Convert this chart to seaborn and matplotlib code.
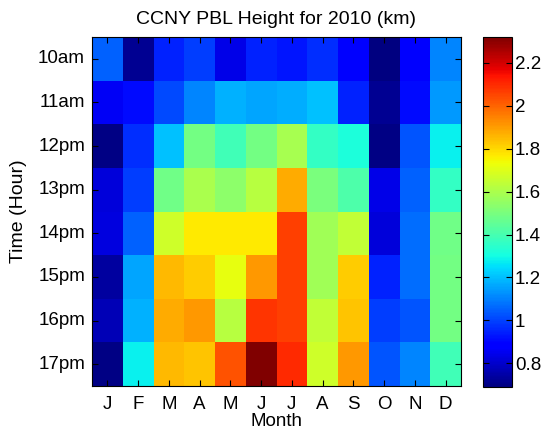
import numpy as np
import pandas as pd
import matplotlib
matplotlib.use("Agg")
import matplotlib.pyplot as plt
import seaborn as sns
from matplotlib.ticker import FuncFormatter

months = ["J", "F", "M", "A", "M", "J", "J", "A", "S", "O", "N", "D"]
hours = ["10am", "11am", "12pm", "13pm", "14pm", "15pm", "16pm", "17pm"]

h10 = [1.05, 0.72, 0.95, 0.99, 0.84, 0.95, 0.93, 0.97, 0.87, 0.69, 0.89, 1.11]
h11 = [0.86, 0.91, 1.01, 1.11, 1.18, 1.16, 1.17, 1.20, 0.95, 0.72, 0.91, 1.14]
h12 = [0.70, 0.97, 1.20, 1.49, 1.39, 1.49, 1.59, 1.36, 1.32, 0.70, 1.03, 1.28]
h13 = [0.82, 0.99, 1.48, 1.60, 1.54, 1.62, 1.88, 1.50, 1.41, 0.84, 1.05, 1.36]
h14 = [0.83, 1.05, 1.67, 1.77, 1.77, 1.77, 2.06, 1.58, 1.64, 0.82, 1.07, 1.48]
h15 = [0.74, 1.16, 1.85, 1.82, 1.72, 1.91, 2.06, 1.58, 1.82, 0.95, 1.07, 1.49]
h16 = [0.77, 1.18, 1.88, 1.91, 1.62, 2.08, 2.06, 1.64, 1.83, 0.99, 1.03, 1.49]
h17 = [0.70, 1.28, 1.85, 1.83, 2.03, 2.32, 2.10, 1.67, 1.91, 1.03, 1.11, 1.39]

data = np.array([h10, h11, h12, h13, h14, h15, h16, h17])
df = pd.DataFrame(data, index=hours, columns=range(12))

plt.rcParams['font.family'] = ['Liberation Sans', 'DejaVu Sans']

fig = plt.figure(figsize=(5.45, 4.32), dpi=100)
ax = fig.add_axes([92/545, 1-386/432, (461-92)/545, (386-37)/432])
cax = fig.add_axes([483/545, 1-387/432, (512-483)/545, (387-37)/432])

sns.heatmap(df, ax=ax, cbar_ax=cax, cmap="jet", vmin=0.69, vmax=2.32,
            xticklabels=months, yticklabels=hours)

for sp in ax.spines.values():
    sp.set_visible(True)
    sp.set_color("black")
    sp.set_linewidth(0.8)
ax.tick_params(axis="both", direction="in", length=4, labelsize=13.5,
               top=True, right=True, colors="black")
ax.tick_params(axis="x", pad=7)
ax.tick_params(axis="y", pad=5)
ax.set_yticklabels(hours, rotation=0)
ax.set_xticklabels(months, rotation=0)
ax.set_xlabel("Month", fontsize=13.5, labelpad=0)
ax.set_ylabel("Time (Hour)", fontsize=14, labelpad=8)
ax.set_title("CCNY PBL Height for 2010 (km)", fontsize=14, pad=9)

cb = ax.collections[0].colorbar
cb.set_ticks([0.8, 1.0, 1.2, 1.4, 1.6, 1.8, 2.0, 2.2])
cb.ax.yaxis.set_major_formatter(FuncFormatter(lambda v, p: f"{v:g}"))
cb.ax.tick_params(direction="in", length=4, labelsize=13.5, left=True, right=True, pad=2)
cb.outline.set_visible(True)
cb.outline.set_edgecolor("black")
cb.outline.set_linewidth(0.8)

fig.savefig("out.png", dpi=100)
